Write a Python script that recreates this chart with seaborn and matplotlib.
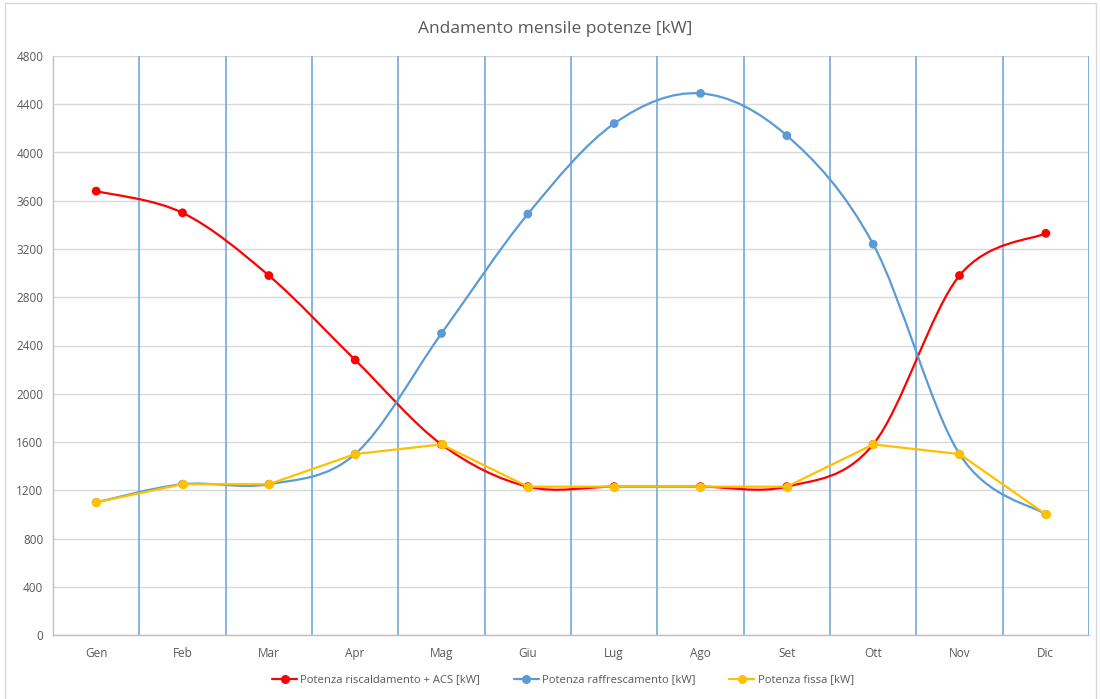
import numpy as np
import pandas as pd
import matplotlib
matplotlib.use("Agg")
import matplotlib.pyplot as plt
import seaborn as sns
from matplotlib.path import Path
from matplotlib.patches import PathPatch, Rectangle
from matplotlib.lines import Line2D

mesi = ["Gen", "Feb", "Mar", "Apr", "Mag", "Giu", "Lug", "Ago", "Set", "Ott", "Nov", "Dic"]
riscaldamento = [3680, 3500, 2980, 2280, 1580, 1230, 1230, 1230, 1230, 1580, 2980, 3330]
raffrescamento = [1100, 1250, 1250, 1500, 2500, 3490, 4240, 4490, 4140, 3240, 1500, 1000]
fissa = [1100, 1250, 1250, 1500, 1580, 1230, 1230, 1230, 1230, 1580, 1500, 1000]
y_ticks = list(range(0, 4801, 400))

nomi = ["Potenza riscaldamento + ACS [kW]", "Potenza raffrescamento [kW]", "Potenza fissa [kW]"]
colori = ["#FF0000", "#5B9BD5", "#FFC000"]

sns.set_theme(style="white")
plt.rcParams["font.family"] = ["Open Sans", "DejaVu Sans"]

fig = plt.figure(figsize=(11, 6.99), dpi=100)
ax = fig.add_axes([53 / 1100, 1 - 635 / 699, (1089 - 53) / 1100, (635 - 56) / 699])

# outer chart frame
fig.patches.append(Rectangle((5 / 1100, -0.01), 1091 / 1100, 1 - 3 / 699 + 0.01,
                             transform=fig.transFigure, fill=False,
                             edgecolor="#D9D9D9", linewidth=1.0))

x = np.arange(len(mesi))


def smooth_path(xs, ys):
    """Cubic Bezier through the points (Catmull-Rom style control points)."""
    pts = np.column_stack([xs, ys]).astype(float)
    n = len(pts)
    verts = [pts[0]]
    codes = [Path.MOVETO]
    for i in range(n - 1):
        p0 = pts[i - 1] if i > 0 else pts[i]
        p1 = pts[i]
        p2 = pts[i + 1]
        p3 = pts[i + 2] if i + 2 < n else pts[i + 1]
        c1 = p1 + (p2 - p0) / 6.0
        c2 = p2 - (p3 - p1) / 6.0
        verts += [c1, c2, p2]
        codes += [Path.CURVE4] * 3
    return Path(verts, codes)


# gridlines
for yv in y_ticks:
    ax.axhline(yv, color="#D9D9D9", linewidth=1.0, zorder=0)
for xv in np.arange(0.5, len(mesi), 1.0):
    ax.axvline(xv, color="#7EB0DE", linewidth=1.3, zorder=0)

df = pd.DataFrame({"mese": x, "risc": riscaldamento, "raff": raffrescamento, "fissa": fissa})

# smoothed series
for col, colore, z in [("risc", colori[0], 3), ("raff", colori[1], 4)]:
    ax.add_patch(PathPatch(smooth_path(df["mese"], df[col]), facecolor="none",
                           edgecolor=colore, linewidth=1.6, zorder=z))
    sns.scatterplot(data=df, x="mese", y=col, color=colore, s=40, edgecolor="none",
                    zorder=z + 0.5, ax=ax, legend=False)

# straight series
sns.lineplot(data=df, x="mese", y="fissa", color=colori[2], linewidth=1.6,
             marker="o", markersize=6.7, markeredgewidth=0, zorder=6, ax=ax,
             legend=False)

ax.set_xlim(-0.5, len(mesi) - 0.5)
ax.set_ylim(0, 4800)
ax.set_xticks(x)
ax.set_xticklabels(mesi)
ax.set_yticks(y_ticks)
ax.set_yticklabels([str(v) for v in y_ticks])
ax.set_xlabel("")
ax.set_ylabel("")
ax.tick_params(axis="both", length=0, labelsize=8.5, labelcolor="#595959")
ax.tick_params(axis="x", pad=8.5)
ax.tick_params(axis="y", pad=7)

for s in ["top", "right"]:
    ax.spines[s].set_visible(False)
ax.spines["left"].set_color("#BFBFBF")
ax.spines["bottom"].set_color("#BFBFBF")
ax.spines["left"].set_linewidth(1.0)
ax.spines["bottom"].set_linewidth(1.0)
ax.axvline(len(mesi) - 0.5, color="#7EB0DE", linewidth=2.0, zorder=1)

fig.text(555 / 1100, 1 - 29 / 699, "Andamento mensile potenze [kW]", ha="center",
         va="center", fontsize=12.5, color="#595959")

handles = [Line2D([0], [0], color=c, linewidth=1.6, marker="o", markersize=6.5,
                  markeredgewidth=0) for c in colori]
fig.legend(handles, nomi, loc="center", bbox_to_anchor=(563 / 1100, 1 - 680 / 699),
           ncol=3, frameon=False, fontsize=8.1, labelcolor="#595959",
           handlelength=2.2, handletextpad=0.3, columnspacing=3.0)

fig.savefig("out.png", dpi=100, facecolor="white")
